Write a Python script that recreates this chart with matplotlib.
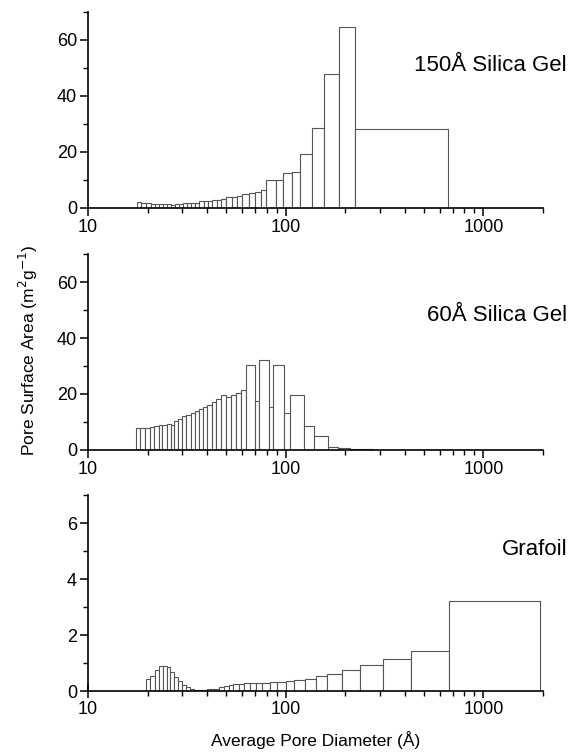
import numpy as np
import matplotlib
matplotlib.use('Agg')
import matplotlib.pyplot as plt
from matplotlib.ticker import LogLocator, FixedLocator, NullFormatter, FuncFormatter

plt.rcParams['font.family'] = ['Liberation Sans', 'DejaVu Sans']

# bin edges (Å) and pore surface area (m2/g) for each sample
edges_150 = [17.6, 18.6, 19.6, 20.8, 21.8, 22.9, 24.0, 25.2, 26.4, 27.4, 28.7, 30.1,
             31.5, 33.0, 34.7, 36.5, 38.4, 40.3, 42.4, 44.7, 47.2, 50.0, 53.3, 56.7,
             60.3, 65.0, 69.9, 74.7, 79.8, 89.3, 97.3, 108.1, 118.2, 135.0, 155.3,
             186.2, 225.2, 659]
area_150 = [2.2, 1.9, 1.9, 1.4, 1.4, 1.4, 1.4, 1.4, 1.0, 1.4, 1.4, 1.9,
            1.9, 1.9, 1.9, 2.4, 2.4, 2.6, 2.9, 2.9, 3.2, 3.9, 3.9, 4.3,
            5.1, 5.5, 5.7, 6.4, 10.0, 10.0, 12.4, 12.8, 19.2, 28.6, 47.7,
            64.5, 28.2]

edges_60 = [17.39, 18.35, 19.45, 20.54, 21.60, 22.74, 23.71, 24.96, 26.16, 27.09,
            28.58, 29.95, 31.38, 33.15, 34.72, 36.26, 38.13, 40.09, 42.21, 44.63,
            47.02, 50.03, 53.03, 56.22, 59.59, 63.17, 69.94, 73.54, 82.04, 86.56,
            98.42, 105.6, 123.1, 139.2, 163.3, 183.5, 211.8, 277.0]
area_60 = [7.7, 7.8, 7.8, 8.2, 8.7, 8.8, 9.1, 9.4, 9.0, 10.2,
           11.2, 12.0, 12.5, 13.1, 13.8, 14.7, 15.2, 16.2, 17.0, 18.1,
           19.8, 19.1, 19.7, 20.2, 21.6, 30.4, 17.5, 32.3, 15.2, 30.2,
           13.1, 19.7, 8.5, 4.9, 1.0, 0.6, 0.5]

edges_graf = [19.61, 20.54, 21.70, 22.91, 24.00, 24.95, 25.94, 27.18, 28.59, 29.96,
              31.27, 32.76, 34.46, 36.11, 37.83, 39.79, 41.70, 43.85, 45.95, 48.72,
              51.43, 54.31, 57.80, 61.51, 65.96, 70.47, 75.87, 82.96, 90.04, 100.0,
              110.2, 124.8, 141.9, 162.6, 193.6, 238.1, 308.9, 429.8, 666.8, 1928]
area_graf = [0.42, 0.55, 0.75, 0.88, 0.89, 0.84, 0.69, 0.50, 0.35, 0.23,
             0.14, 0.08, 0.05, 0.03, 0.05, 0.06, 0.06, 0.08, 0.13, 0.18,
             0.22, 0.24, 0.26, 0.28, 0.28, 0.28, 0.28, 0.31, 0.31, 0.34,
             0.38, 0.43, 0.52, 0.60, 0.75, 0.93, 1.14, 1.43, 3.20]

labels = ['150Å Silica Gel', '60Å Silica Gel', 'Grafoil']
ymax = [70, 70, 7]
ymajor = [20, 20, 2]
label_y = [0.726, 0.687, 0.722]

fig = plt.figure(figsize=(5.84, 7.56), dpi=100)
W, H = 584.0, 756.0
bottoms = [208, 450, 691]
axes = []
for b in bottoms:
    axes.append(fig.add_axes([88 / W, 1 - b / H, 455 / W, 196 / H]))

data = [(edges_150, area_150), (edges_60, area_60), (edges_graf, area_graf)]

for i, ax in enumerate(axes):
    e, a = data[i]
    e = np.array(e)
    ax.bar(e[:-1], a, width=np.diff(e), align='edge', color='white',
           edgecolor='#555555', linewidth=0.8, zorder=2)
    ax.set_xscale('log')
    ax.set_xlim(10, 2000)
    ax.set_ylim(0, ymax[i])
    for s in ['top', 'right']:
        ax.spines[s].set_visible(False)
    for s in ['left', 'bottom']:
        ax.spines[s].set_linewidth(1.2)
        ax.spines[s].set_zorder(3)
    ax.xaxis.set_major_locator(FixedLocator([10, 100, 1000]))
    ax.xaxis.set_major_formatter(FuncFormatter(lambda v, p: '%d' % v))
    ax.xaxis.set_minor_locator(LogLocator(base=10, subs=np.arange(2, 10)))
    ax.xaxis.set_minor_formatter(NullFormatter())
    ax.yaxis.set_major_locator(FixedLocator(np.arange(0, ymax[i] + 0.01, ymajor[i])))
    ax.yaxis.set_minor_locator(FixedLocator(np.arange(0, ymax[i] + 0.01, ymajor[i] / 2)))
    ax.tick_params(which='major', direction='out', length=6, width=1.1, labelsize=13, pad=2)
    ax.tick_params(which='minor', direction='out', length=3.5, width=1.0)
    ax.text(1.053, label_y[i], labels[i], transform=ax.transAxes, ha='right',
            va='center', fontsize=16)

axes[2].tick_params(axis='x', which='major', direction='inout', length=10)

fig.text(28 / W, 1 - 350 / H, 'Pore Surface Area (m$^2$g$^{-1}$)', rotation=90,
         ha='center', va='center', fontsize=12.5)
fig.text(316 / W, 1 - 740 / H, 'Average Pore Diameter (Å)', ha='center',
         va='center', fontsize=12.5)

fig.savefig('out.png', dpi=100)
